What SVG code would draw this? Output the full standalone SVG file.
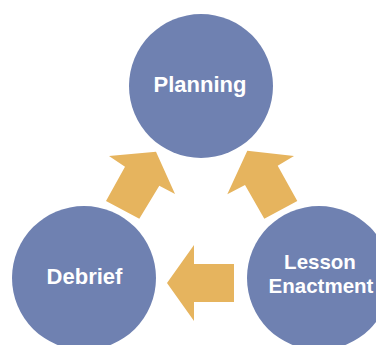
<svg xmlns="http://www.w3.org/2000/svg" width="376" height="345" viewBox="0 0 376 345">
  <style>
    .node { fill: #6F81B1; }
    .label { fill: #FFFFFF; font-family: "Liberation Sans", Arial, sans-serif; font-weight: bold; font-size: 22px; text-anchor: middle; }
    .label2 { font-size: 20.5px; }
    .arrow { fill: #E6B45E; }
  </style>
  <rect x="0" y="0" width="376" height="345" fill="#FFFFFF"/>
  <g id="connectors">
    <polygon class="arrow" points="109,156 156,151.7 175,194 159.3,185.7 139.3,218.7 106,201 125,166.7"/>
    <polygon class="arrow" points="247.3,150.7 294,156 277.7,165.7 297.3,201 264.3,218.7 245,185 227.3,194.3"/>
    <polygon class="arrow" points="167,283 194,245 194,264 234,264 234,302 194,302 194,321"/>
  </g>
  <g id="planning">
    <circle class="node" cx="201" cy="86" r="72"/>
    <text class="label" x="200" y="92">Planning</text>
  </g>
  <g id="debrief">
    <circle class="node" cx="84" cy="278" r="72"/>
    <text class="label" x="84.5" y="284">Debrief</text>
  </g>
  <g id="lesson-enactment">
    <circle class="node" cx="319" cy="278" r="72"/>
    <text class="label label2" x="320" y="269">Lesson</text>
    <text class="label label2" x="321" y="292.5">Enactment</text>
  </g>
</svg>
